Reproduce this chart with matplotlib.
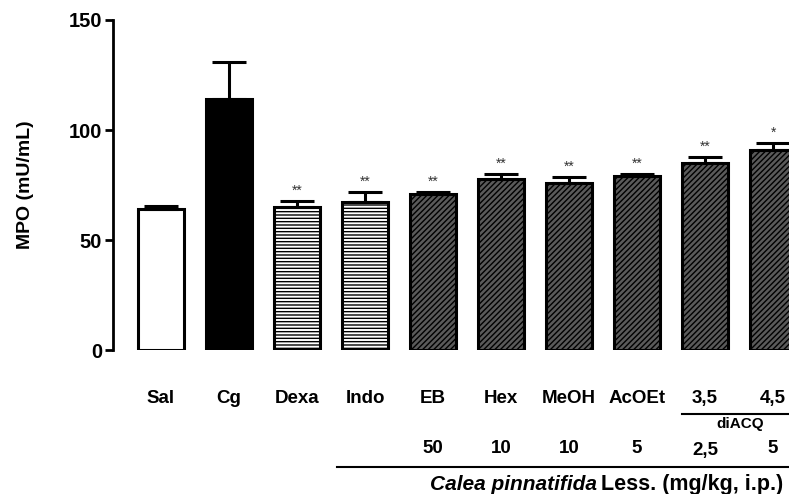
import numpy as np
import matplotlib
matplotlib.use('Agg')
import matplotlib.pyplot as plt
from matplotlib import transforms
from matplotlib.lines import Line2D

plt.rcParams['font.family'] = ['Liberation Sans', 'DejaVu Sans']
plt.rcParams['font.weight'] = 'bold'
plt.rcParams['hatch.linewidth'] = 1.0

# ---- data ----
groups = ['Sal', 'Cg', 'Dexa', 'Indo', 'EB', 'Hex', 'MeOH', 'AcOEt', '3,5', '4,5']
mean_mpo = [64.0, 114.3, 65.0, 67.3, 71.0, 77.6, 76.0, 79.2, 84.8, 91.0]
sem_mpo = [1.5, 16.4, 2.6, 4.6, 1.0, 2.4, 2.8, 0.7, 2.8, 3.0]
signif = ['', '', '**', '**', '**', '**', '**', '**', '**', '*']
doses = ['', '', '', '', '50', '10', '10', '5', '2,5', '5']

faces = ['white', 'black', 'white', 'white'] + ['#5a5a5a'] * 6
hatches = [None, None, '-----', '-----'] + ['//////'] * 6

W, H = 789, 494
fig = plt.figure(figsize=(W / 100, H / 100), dpi=100)
ax = fig.add_axes([113 / W, 1 - 350 / H, 1 - 113 / W, 330 / H])

x = np.arange(len(groups))
for i in range(len(groups)):
    ax.bar(x[i], mean_mpo[i], width=0.68, color=faces[i], edgecolor='black',
           linewidth=2.2, hatch=hatches[i], zorder=2)
    ax.errorbar(x[i], mean_mpo[i], yerr=[[0], [sem_mpo[i]]], fmt='none',
                ecolor='black', elinewidth=2.2, capsize=12, capthick=2.2, zorder=3)
    if signif[i]:
        ax.text(x[i], mean_mpo[i] + sem_mpo[i] + 1.5, signif[i], ha='center',
                va='bottom', fontsize=10, color='#333333', fontweight='normal')

ax.set_xlim(-0.706, 9.235)
ax.set_ylim(0, 150)
ax.set_yticks([0, 50, 100, 150])
ax.set_xticks([])
for s in ['top', 'right', 'bottom']:
    ax.spines[s].set_visible(False)
ax.spines['left'].set_linewidth(2)
ax.tick_params(axis='y', direction='out', length=6, width=2, labelsize=14.5, pad=2)
for t in ax.get_yticklabels():
    t.set_fontweight('bold')
ax.set_ylabel('MPO (mU/mL)', fontsize=14, fontweight='bold', labelpad=25)

# ---- labels under the bars ----
tr = transforms.blended_transform_factory(ax.transData, fig.transFigure)
for i, g in enumerate(groups):
    ax.text(x[i], 1 - 398 / H, g, transform=tr, ha='center', va='center',
            fontsize=13.5, fontweight='bold', clip_on=False)
    if doses[i]:
        yy = 450 if doses[i] == '2,5' else 448
        ax.text(x[i], 1 - yy / H, doses[i], transform=tr, ha='center', va='center',
                fontsize=13.5, fontweight='bold', clip_on=False)

# diACQ bracket
fig.add_artist(Line2D([682 / W, 1.0], [1 - 414 / H] * 2, color='black', lw=1.5))
ax.text(8.52, 1 - 424 / H, 'diACQ', transform=tr, ha='center', va='center',
        fontsize=11, fontweight='bold', clip_on=False)

# Calea pinnatifida line and caption
fig.add_artist(Line2D([337 / W, 1.0], [1 - 467 / H] * 2, color='black', lw=1.5))
fig.text(597 / W, 1 - 484 / H, 'Calea pinnatifida', ha='right', va='center',
         fontsize=15, fontweight='bold', style='italic')
fig.text(601 / W, 1 - 484 / H, 'Less. (mg/kg, i.p.)', ha='left', va='center',
         fontsize=15.5, fontweight='bold')

fig.savefig('out.png', dpi=100)
